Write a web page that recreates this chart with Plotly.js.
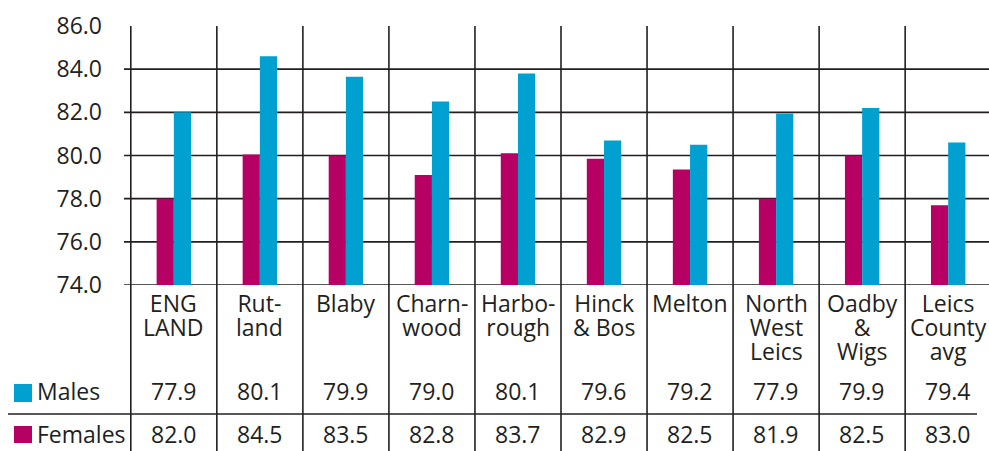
<!DOCTYPE html>
<html>
<head>
<meta charset="utf-8">
<script src="https://cdn.plot.ly/plotly-3.0.1.min.js"></script>
<style>
  html, body { margin: 0; padding: 0; background: #fff; overflow: hidden; }
  #chart { width: 992px; height: 451px; }
</style>
</head>
<body>
<div id="chart"></div>
<script>
// Life expectancy by area: bars plus a small data table underneath
const categories = ["ENG LAND", "Rutland", "Blaby", "Charnwood", "Harborough",
  "Hinck & Bos", "Melton", "North West Leics", "Oadby & Wigs", "Leics County avg"];
const categoryLines = [["ENG", "LAND"], ["Rut-", "land"], ["Blaby"], ["Charn-", "wood"],
  ["Harbo-", "rough"], ["Hinck", "& Bos"], ["Melton"], ["North", "West", "Leics"],
  ["Oadby", "&", "Wigs"], ["Leics", "County", "avg"]];

// bar heights
const magentaBars = [78.0, 80.05, 80.0, 79.1, 80.1, 79.85, 79.35, 78.0, 80.0, 77.7];
const blueBars = [82.0, 84.6, 83.65, 82.5, 83.8, 80.7, 80.5, 81.95, 82.2, 80.6];

// table rows
const maleValues = ["77.9", "80.1", "79.9", "79.0", "80.1", "79.6", "79.2", "77.9", "79.9", "79.4"];
const femaleValues = ["82.0", "84.5", "83.5", "82.8", "83.7", "82.9", "82.5", "81.9", "82.5", "83.0"];

const yTicks = [74, 76, 78, 80, 82, 84, 86];

const MAGENTA = "#B60063";
const BLUE = "#00A0D0";
const INK = "#231f20";
const FONT = "Open Sans, Noto Sans, sans-serif";

// pixel helpers for the area below the plot
const W = 992, H = 451, ML = 130, MT = 26, MB = H - 285;
const plotW = W - ML, plotH = H - MT - MB;
const px2x = px => (px - ML) / plotW;
const px2y = py => (H - MB - py) / plotH;

const traces = [
  { type: "bar", x: categories, y: magentaBars, marker: { color: MAGENTA }, hoverinfo: "none" },
  { type: "bar", x: categories, y: blueBars, marker: { color: BLUE }, hoverinfo: "none" }
];

const shapes = [];
const lineStyle = { color: INK, width: 1.6 };

// horizontal grid (no line at the top value)
yTicks.slice(0, -1).forEach(v => {
  shapes.push({ type: "line", xref: "paper", yref: "y", x0: -6 / plotW, x1: 1, y0: v, y1: v,
    line: lineStyle, layer: "below" });
});
// column separators running through the chart and the table
for (let k = 0; k <= categories.length; k++) {
  shapes.push({ type: "line", xref: "x", yref: "paper", x0: k - 0.5, x1: k - 0.5,
    y0: 1, y1: px2y(H + 5), line: lineStyle, layer: "below" });
}
// rule between the two table rows
shapes.push({ type: "line", xref: "paper", yref: "paper", x0: px2x(8), x1: px2x(977),
  y0: px2y(414), y1: px2y(414), line: lineStyle });
// legend swatches
shapes.push({ type: "rect", xref: "paper", yref: "paper", x0: px2x(14), x1: px2x(32),
  y0: px2y(384), y1: px2y(402), fillcolor: BLUE, line: { width: 0 } });
shapes.push({ type: "rect", xref: "paper", yref: "paper", x0: px2x(14), x1: px2x(32),
  y0: px2y(426), y1: px2y(443), fillcolor: MAGENTA, line: { width: 0 } });

const annotations = [];
const txtFont = { family: FONT, size: 23, color: INK };
categories.forEach((c, i) => {
  annotations.push({ xref: "x", yref: "paper", x: c, y: px2y(285), xanchor: "center",
    yanchor: "top", text: categoryLines[i].join("<br>"), showarrow: false, font: txtFont,
    name: "catlabel" });
  annotations.push({ xref: "x", yref: "paper", x: c, y: px2y(373), xanchor: "center",
    yanchor: "top", text: maleValues[i], showarrow: false, font: txtFont });
  annotations.push({ xref: "x", yref: "paper", x: c, y: px2y(415.5), xanchor: "center",
    yanchor: "top", text: femaleValues[i], showarrow: false, font: txtFont });
});
annotations.push({ xref: "paper", yref: "paper", x: px2x(35), y: px2y(373), xanchor: "left",
  yanchor: "top", text: "Males", showarrow: false, font: txtFont });
annotations.push({ xref: "paper", yref: "paper", x: px2x(35), y: px2y(415.5), xanchor: "left",
  yanchor: "top", text: "Females", showarrow: false, font: txtFont });

const layout = {
  width: W, height: H,
  margin: { l: ML, r: 0, t: MT, b: MB, pad: 0 },
  paper_bgcolor: "#fff", plot_bgcolor: "rgba(0,0,0,0)",
  showlegend: false,
  barmode: "group", bargap: 0.6, bargroupgap: 0,
  font: { family: FONT, color: INK },
  xaxis: { type: "category", categoryorder: "array", categoryarray: categories,
    showticklabels: false, showgrid: false, zeroline: false, showline: false, ticks: "" },
  yaxis: { range: [74, 86], tickvals: yTicks, tickformat: ".1f", showgrid: false,
    zeroline: false, showline: false, ticks: "", ticklabelstandoff: 27,
    tickfont: { family: FONT, size: 23, color: INK } },
  shapes: shapes,
  annotations: annotations
};

// tighter leading for the wrapped category names (about 24px per line)
const LEADING = 23.8 / (23 * 1.3);
Plotly.newPlot("chart", traces, layout, { displayModeBar: false, staticPlot: true })
  .then(gd => {
    gd.querySelectorAll(".annotation-text tspan.line").forEach(t => {
      const dy = parseFloat(t.getAttribute("dy"));
      if (dy) t.setAttribute("dy", (dy * LEADING) + "em");
    });
  });
</script>
</body>
</html>
